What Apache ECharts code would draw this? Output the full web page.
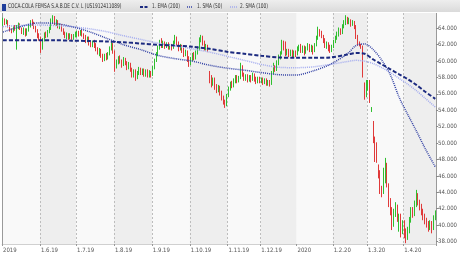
<!DOCTYPE html>
<html><head><meta charset="utf-8">
<script src="https://cdn.jsdelivr.net/npm/echarts/dist/echarts.min.js"></script>
<style>html,body{margin:0;padding:0;background:#fff}#c{width:460px;height:258px}</style>
</head><body><div id="c"></div>
<script>
// trading days per month, May 2019 .. Apr 2020
const monthDays = [22,21,22,22,22,22,19,21,21,20,21,19];
const monthLabels = ["2019","1.6.19","1.7.19","1.8.19","1.9.19","1.10.19","1.11.19","1.12.19","2020","1.2.20","1.3.20","1.4.20"];
const yearStartLabel = "2020";
// [open, close, low, high]
const candles = [
[64.6,65.0,64.3,65.3],[65.0,64.7,64.4,65.2],[64.7,64.9,64.5,65.1],[64.9,64.3,64.1,65.0],[64.3,63.8,63.6,64.4],
[63.8,63.6,63.4,64.0],[63.6,64.1,63.5,64.3],[64.1,63.9,63.7,64.4],[62.0,64.2,61.4,64.4],[64.2,64.5,63.9,64.7],
[64.5,64.0,63.8,64.6],[64.0,63.6,63.3,64.1],[63.6,63.9,63.2,64.1],[63.9,63.3,63.0,64.0],[63.3,63.8,63.1,64.0],
[63.8,64.3,63.6,64.5],[64.3,64.8,64.1,65.0],[64.8,64.6,64.3,65.1],[64.6,64.2,63.9,64.8],[64.2,63.7,63.5,64.3],
[63.7,63.2,62.8,63.9],[63.2,62.8,62.5,63.4],
[62.8,61.6,61.0,63.0],[61.6,62.6,61.4,62.8],[62.6,63.3,62.4,63.5],[63.3,63.0,62.8,63.6],[63.0,63.6,62.9,63.8],
[63.6,64.0,63.4,64.2],[64.0,64.9,63.8,65.2],[64.9,65.3,64.6,65.6],[65.3,64.7,64.4,65.5],[64.7,64.9,64.3,65.1],
[64.9,64.2,64.0,65.0],[64.2,64.4,63.9,64.6],[64.4,63.8,63.6,64.5],[63.8,63.4,63.2,64.0],[63.4,63.0,62.8,63.6],
[63.0,63.3,62.7,63.5],[63.3,62.9,62.6,63.4],[62.9,63.2,62.7,63.4],[63.2,62.8,62.6,63.3],[62.8,63.1,62.6,63.3],
[63.1,63.4,62.9,63.6],
[63.1,63.5,62.9,63.7],[63.5,63.3,63.0,63.7],[63.3,63.6,63.1,63.8],[63.6,63.2,63.0,63.8],[63.2,63.0,62.7,63.4],
[63.0,62.5,62.2,63.2],[62.5,62.8,62.3,63.0],[62.8,62.2,61.9,63.0],[62.2,61.9,61.7,62.4],[61.9,62.3,61.7,62.5],
[62.3,62.0,61.6,62.6],[62.0,61.5,61.2,62.2],[61.5,61.1,60.8,61.7],[61.1,61.4,60.6,61.6],[61.4,60.7,60.4,61.5],
[60.7,60.3,59.9,60.9],[60.3,60.7,60.0,60.9],[60.7,60.4,60.1,61.0],[60.4,60.9,60.2,61.1],[60.9,61.6,60.7,61.8],
[61.6,62.1,61.3,62.3],[62.1,61.2,60.9,62.2],
[61.2,59.4,58.7,61.3],[59.4,59.9,59.1,60.2],[59.9,60.4,59.6,60.6],[60.4,60.0,59.7,60.7],[60.0,59.6,59.2,60.2],
[59.6,60.2,59.4,60.5],[60.2,59.8,59.5,60.4],[59.8,59.3,58.9,60.0],[59.3,59.7,59.0,59.9],[59.7,59.0,58.7,59.8],
[59.0,58.4,58.0,59.2],[58.4,58.8,58.0,59.0],[58.8,58.1,57.6,59.0],[58.1,58.6,57.8,58.8],[58.6,59.1,58.3,59.3],
[59.1,58.6,58.3,59.2],[58.6,58.9,58.3,59.1],[58.9,58.4,58.1,59.1],[58.4,58.8,58.1,59.0],[58.8,58.3,58.0,59.0],
[58.3,58.6,58.0,58.9],[58.6,58.3,58.0,58.8],
[58.3,59.2,58.2,59.4],[59.2,60.1,59.0,60.3],[60.1,60.8,59.9,61.1],[60.8,61.6,60.6,61.9],[61.6,62.3,61.4,62.6],
[62.3,61.9,61.6,62.8],[61.9,62.2,61.6,62.5],[62.2,61.8,61.5,62.4],[61.8,62.1,61.6,62.3],[62.1,61.7,61.4,62.3],
[61.7,61.9,61.4,62.1],[61.9,61.6,61.3,62.1],[61.6,62.3,61.5,62.5],[62.3,62.8,62.1,63.2],[62.8,62.2,61.9,63.0],
[62.2,61.6,61.2,62.4],[61.6,61.9,61.3,62.1],[61.9,61.4,61.0,62.0],[61.4,60.9,60.5,61.6],[60.9,61.2,60.6,61.4],
[61.2,60.4,59.9,61.3],[60.4,59.7,59.3,60.6],
[59.7,60.3,59.5,60.5],[60.3,60.8,60.0,61.0],[60.8,60.4,60.1,61.1],[60.4,61.0,60.2,61.3],[61.0,61.5,60.8,61.8],
[61.5,62.6,61.3,62.9],[62.6,62.9,62.3,63.2],[62.9,62.3,61.9,63.1],[62.3,61.7,61.3,62.5],[61.7,61.9,61.3,62.1],
[61.9,61.5,61.1,62.0],[58.6,58.0,57.3,58.8],[58.0,57.4,56.8,58.3],[57.4,57.8,57.0,58.0],[57.8,57.0,56.5,58.0],
[57.0,56.6,56.1,57.2],[56.6,56.9,56.2,57.1],[56.9,56.2,55.8,57.0],[56.2,55.6,55.2,56.4],[55.6,55.0,54.7,55.8],
[55.0,54.7,54.3,55.3],[54.7,55.8,54.5,56.0],
[55.8,56.6,55.6,56.9],[56.6,57.3,56.4,57.5],[57.3,57.0,56.7,57.6],[57.0,57.6,56.8,57.9],[57.6,58.0,57.3,58.3],
[58.0,57.6,57.3,58.3],[57.6,57.9,57.4,58.2],[57.9,59.2,57.8,59.8],[59.2,58.4,58.1,59.5],[58.4,57.9,57.6,58.6],
[57.9,58.2,57.6,58.4],[58.2,57.7,57.4,58.4],[57.7,58.1,57.5,58.3],[58.1,57.8,57.4,58.3],[57.8,58.3,57.6,58.6],
[58.3,57.9,57.5,58.5],[57.9,57.5,57.2,58.1],[57.5,57.9,57.3,58.1],[57.9,57.6,57.3,58.1],
[57.6,57.8,57.3,58.0],[57.8,57.4,57.1,58.0],[57.4,57.7,57.2,57.9],[57.7,57.3,57.0,57.9],[57.3,57.5,57.0,57.7],
[57.5,57.2,56.9,57.7],[57.2,58.6,57.1,58.8],[58.6,59.3,58.4,59.8],[59.3,59.0,58.7,59.5],[59.0,59.8,58.8,60.1],
[59.8,60.4,59.5,60.8],[60.4,60.9,60.2,61.2],[60.9,62.2,60.8,62.6],[62.2,61.6,61.3,62.5],[61.6,61.0,60.6,62.4],
[61.0,61.3,60.7,61.5],[61.3,60.9,60.5,61.5],[60.9,61.2,60.6,61.4],[61.2,60.8,60.4,61.4],[60.8,61.1,60.5,61.3],
[61.1,60.8,60.5,61.3],
[60.8,61.5,60.7,61.8],[61.5,61.9,61.2,62.0],[61.9,61.3,61.0,62.1],[61.3,61.7,61.0,61.9],[61.7,61.1,60.7,61.9],
[61.1,61.6,60.9,61.8],[61.6,62.0,61.3,62.2],[62.0,61.4,61.1,62.1],[61.4,61.8,61.1,62.0],[61.8,61.2,60.8,61.9],
[61.2,62.0,61.1,62.2],[62.0,62.8,61.8,63.1],[62.8,63.7,62.6,64.2],[63.7,63.4,63.0,63.9],[63.4,63.0,62.8,63.7],
[63.0,62.6,62.2,63.2],[62.6,61.9,61.6,62.8],[61.9,62.2,61.5,62.4],[62.2,61.6,61.2,62.3],[61.6,61.3,61.0,62.0],
[61.3,61.8,61.1,62.0],
[61.8,62.4,61.6,62.6],[62.4,62.9,62.2,63.1],[62.9,63.3,62.6,63.6],[63.3,63.8,63.0,64.1],[63.8,63.5,63.2,64.0],
[63.5,64.2,63.3,64.5],[64.2,64.7,64.0,65.0],[64.7,65.1,64.4,65.6],[65.1,64.8,64.5,65.4],[64.8,65.0,64.5,65.3],
[65.0,64.5,64.2,65.1],[64.5,64.8,64.3,65.0],[64.8,64.2,63.9,64.9],[64.2,63.0,62.7,64.4],[63.0,62.2,61.9,63.2],
[62.2,62.0,61.8,62.4],[62.0,61.8,61.5,62.1],[61.8,58.6,58.0,61.9],[57.0,55.8,55.3,57.4],[55.8,56.8,55.6,57.7],
[56.8,57.3,56.4,57.7],[57.3,55.2,54.9,57.7],[54.1,54.3,53.8,54.4],[52.6,50.5,50.0,52.7],[50.5,48.2,47.7,50.8],
[49.8,48.0,47.6,50.1],[47.0,46.0,45.7,47.4],[46.0,44.2,43.8,46.7],[44.2,43.8,43.4,44.8],[44.0,46.5,43.8,47.0],
[46.5,47.4,45.1,48.2],[47.4,45.0,44.6,47.6],[44.5,43.0,42.2,45.1],[43.0,41.8,41.2,43.3],[41.8,40.2,39.4,42.2],
[40.2,41.6,39.8,42.0],[41.6,42.4,41.0,42.8],[42.4,40.8,40.4,42.5],[40.8,41.2,39.2,41.4],[41.2,39.3,38.5,41.4],
[39.3,40.1,38.9,40.6],
[40.1,39.0,38.4,40.6],[39.0,38.5,37.8,39.6],[38.5,39.3,38.2,39.8],[39.3,40.6,39.0,41.0],[40.6,41.8,40.3,42.2],
[41.8,41.3,40.9,42.2],[41.3,42.6,41.1,43.0],[42.6,43.5,42.2,44.3],[43.5,42.8,42.4,43.9],[42.8,42.2,41.8,43.1],
[42.2,41.6,41.2,42.6],[41.6,41.0,40.6,42.0],[41.0,40.5,40.1,41.4],[40.5,40.1,39.7,40.9],[40.1,39.6,39.2,40.5],
[39.6,40.3,39.4,40.6],[40.3,39.5,39.0,40.5],[39.5,40.9,39.4,41.2],[40.9,41.3,40.6,41.8]
];
const maIndex = [0,10,20,30,40,50,60,70,80,90,100,110,120,130,140,150,160,170,180,190,200,205,210,215,220,225,230,235,240,245,251];
const ema200 = [62.55,62.55,62.55,62.55,62.5,62.45,62.4,62.3,62.15,62.0,61.9,61.75,61.5,61.15,60.9,60.65,60.45,60.4,60.4,60.45,60.8,61.0,60.9,60.2,59.6,59.0,58.4,57.8,57.1,56.3,55.4];
const sma50 = [63.55,64.2,64.65,64.6,64.2,63.6,62.8,62.0,61.4,60.7,60.3,60.0,59.5,59.15,58.9,58.6,58.35,58.3,58.8,59.6,60.9,61.9,62.1,61.4,60.1,58.3,55.6,53.5,51.5,49.4,47.1];
const sma100 = [64.2,64.35,64.4,64.35,64.2,63.95,63.6,63.1,62.65,62.2,61.85,61.5,61.1,60.6,60.1,59.6,59.25,59.2,59.3,59.6,59.95,60.1,60.0,59.7,59.2,58.6,57.9,57.2,56.4,55.5,54.4];
const yTickLabelDecimals = 3;

const FONT = "'Liberation Sans Narrow','DejaVu Sans Condensed',sans-serif";
const cats = [];
const monthStart = {};
let k = 0;
monthDays.forEach((n, m) => { monthStart[k] = monthLabels[m]; for (let i = 0; i < n; i++) { cats.push('d' + k); k++; } });
const isStart = (i) => monthStart[i] !== undefined;
let yearIdx = -1;
Object.keys(monthStart).forEach(i => { if (monthStart[i] === yearStartLabel) yearIdx = +i; });
const pairs = (arr) => arr.map((v, i) => [maIndex[i], v]);
const TS = 0.74; // horizontal squeeze of header texts
const hdrText = (x, text) => ({type: 'text', x: x, y: 6.5, scaleX: TS, style: {text: text, font: '6.5px ' + FONT, fill: '#333', verticalAlign: 'middle'}});

const chart = echarts.init(document.getElementById('c'), null, {renderer: 'canvas'});
chart.setOption({
  animation: false,
  backgroundColor: '#ffffff',
  grid: {left: 2, right: 20, top: 13, bottom: 14},
  xAxis: [{
    type: 'category', data: cats, boundaryGap: true,
    axisLine: {show: true, lineStyle: {color: '#d0d0d0'}},
    axisTick: {show: true, interval: isStart, length: 2, lineStyle: {color: '#999'}},
    axisLabel: {interval: isStart, formatter: (v, i) => monthStart[i] || '', align: 'left', fontSize: 6, color: '#555', margin: 3, fontFamily: FONT},
    splitLine: {show: true, interval: (i) => isStart(i) && i !== yearIdx, lineStyle: {type: [2, 2], color: '#bdbdbd', width: 1}},
    splitArea: {show: true, interval: isStart, areaStyle: {color: ['#f9f9f9', '#eeeeee']}}
  }, {
    type: 'category', data: cats, boundaryGap: true, position: 'bottom',
    axisLine: {show: false}, axisTick: {show: false}, axisLabel: {show: false},
    splitLine: {show: true, interval: (i) => i === yearIdx, lineStyle: {type: 'solid', color: '#9a9a9a', width: 1}}
  }],
  yAxis: {
    type: 'value', position: 'right', min: 37.7, max: 65.87, splitNumber: 14, minInterval: 2, maxInterval: 2, scale: true,
    axisLine: {show: false},
    axisTick: {show: true, length: 2, lineStyle: {color: '#888'}},
    axisLabel: {formatter: (v) => v.toFixed(yTickLabelDecimals), fontSize: 6, color: '#555', margin: 2, fontFamily: FONT, showMinLabel: false, showMaxLabel: false},
    splitLine: {show: true, lineStyle: {type: [2, 2], color: '#cfcfcf'}}
  },
  series: [{
    type: 'candlestick', data: candles, barWidth: 1,
    itemStyle: {color: '#8fe08f', color0: '#f3a3a3', borderColor: '#2fbf2f', borderColor0: '#e03a3a', borderWidth: 1}
  }, {
    type: 'line', data: pairs(sma100), smooth: 0.3, symbol: 'none',
    lineStyle: {color: '#a3abef', width: 1.5, type: [1, 1]}
  }, {
    type: 'line', data: pairs(sma50), smooth: 0.3, symbol: 'none',
    lineStyle: {color: '#3443a6', width: 1.5, type: [1, 1]}
  }, {
    type: 'line', data: pairs(ema200), smooth: 0.3, symbol: 'none',
    lineStyle: {color: '#1c2a80', width: 2, type: [4, 2]}
  }],
  graphic: [
    {type: 'rect', shape: {x: 0, y: 0, width: 460, height: 12}, style: {fill: new echarts.graphic.LinearGradient(0, 0, 0, 1, [{offset: 0, color: '#eeeeee'}, {offset: 1, color: '#dadada'}])}},
    {type: 'rect', shape: {x: 2, y: 4, width: 4, height: 7}, style: {fill: '#1f3e9c'}},
    hdrText(8, 'COCA-COLA FEMSA S.A.B.DE C.V. L (US1912411089)'),
    {type: 'line', shape: {x1: 140, y1: 7, x2: 148, y2: 7}, style: {stroke: '#1c2a80', lineWidth: 2, lineDash: [3, 1.5]}},
    hdrText(152, '1. EMA (200)'),
    {type: 'line', shape: {x1: 187, y1: 7, x2: 193, y2: 7}, style: {stroke: '#3443a6', lineWidth: 1.5, lineDash: [1, 1]}},
    hdrText(197, '1. SMA (50)'),
    {type: 'line', shape: {x1: 230, y1: 7, x2: 237, y2: 7}, style: {stroke: '#a3abef', lineWidth: 1.5, lineDash: [1, 1]}},
    hdrText(240, '2. SMA (100)')
  ]
});
</script></body></html>
